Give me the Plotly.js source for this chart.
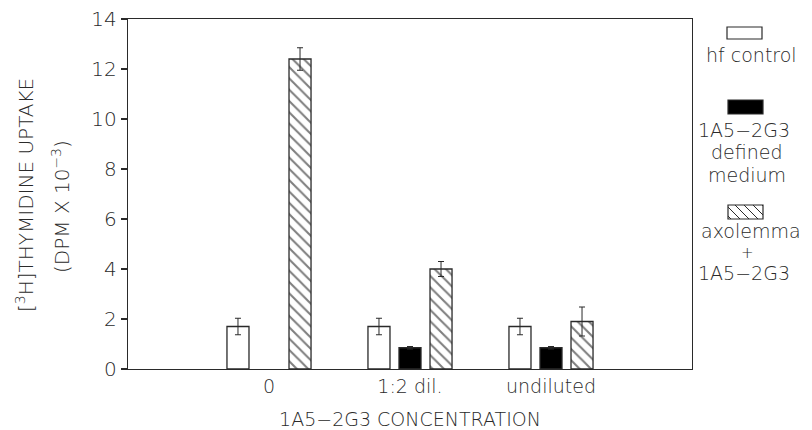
<!DOCTYPE html>
<html>
<head>
<meta charset="utf-8">
<script src="https://cdn.plot.ly/plotly-3.0.1.min.js"></script>
<style>
  html, body { margin: 0; padding: 0; background: #fff; }
  #chart { width: 812px; height: 430px; }
</style>
</head>
<body>
<div id="chart"></div>
<script>
// 1A5-2G3 concentration groups
const categories = ['0', '1:2 dil.', 'undiluted'];

// [3H]thymidine uptake, DPM x 10^-3
const hfControl = [1.7, 1.7, 1.7];
const hfControlErr = [0.33, 0.33, 0.33];

const definedMedium = [null, 0.85, 0.85];
const definedMediumErr = [null, 0.05, 0.05];

const axolemma = [12.4, 4.0, 1.9];
const axolemmaErr = [0.45, 0.3, 0.58];

const yTicks = [0, 2, 4, 6, 8, 10, 12, 14];

const INK = '#2a2a2a';
const FONT = 'DejaVu Sans, Liberation Sans, sans-serif';
const WEIGHT = 300;

// plot area in pixels
const W = 812, H = 430;
const M = { l: 128, r: 120, t: 19, b: 61 };
const PW = W - M.l - M.r, PH = H - M.t - M.b;
const px = x => (x - M.l) / PW;
const py = y => (H - M.b - y) / PH;

function f(size) {
  return { family: FONT, size: size, color: INK, weight: WEIGHT };
}

function errBar(arr) {
  return { type: 'data', array: arr, visible: true, color: INK, thickness: 1, width: 3 };
}

const traces = [
  {
    type: 'bar', name: 'hf control', x: categories, y: hfControl,
    marker: { color: '#ffffff', line: { color: INK, width: 1.3 } },
    error_y: errBar(hfControlErr)
  },
  {
    type: 'bar', name: '1A5-2G3 defined medium', x: categories, y: definedMedium,
    marker: { color: '#000000', line: { color: INK, width: 1.3 } },
    error_y: errBar(definedMediumErr)
  },
  {
    type: 'bar', name: 'axolemma + 1A5-2G3', x: categories, y: axolemma,
    marker: {
      color: '#ffffff',
      line: { color: INK, width: 1.3 },
      pattern: { shape: '\\', size: 8, solidity: 0.26, fgcolor: '#000000', bgcolor: '#ffffff', fillmode: 'overlay' }
    },
    error_y: errBar(axolemmaErr)
  }
];

// legend swatches (drawn at the right of the frame)
const shapes = [];
function swatchRect(x0, x1, y0, y1, fill) {
  shapes.push({
    type: 'rect', xref: 'paper', yref: 'paper',
    x0: px(x0), x1: px(x1), y0: py(y1), y1: py(y0),
    fillcolor: fill, line: { color: INK, width: 1.2 }
  });
}
swatchRect(727, 762, 27, 39, '#ffffff');
swatchRect(728, 763, 100, 114, '#000000');
swatchRect(728, 763, 205, 219, '#ffffff');

// diagonal hatch inside the third swatch
(function () {
  const x0 = 728, x1 = 763, y0 = 205, y1 = 219, h = y1 - y0;
  let segs = '';
  for (let s = x0 - h + 3; s < x1; s += 9) {
    // line from (s, y0) to (s + h, y1), clipped to the box
    let ax = s, ay = y0, bx = s + h, by = y1;
    if (ax < x0) { ay += (x0 - ax); ax = x0; }
    if (bx > x1) { by -= (bx - x1); bx = x1; }
    if (bx <= ax) continue;
    segs += `M${px(ax)},${py(ay)} L${px(bx)},${py(by)} `;
  }
  shapes.push({ type: 'path', xref: 'paper', yref: 'paper', path: segs, line: { color: INK, width: 1 } });
})();

function label(text, xPix, yPix, size, extra) {
  return Object.assign({
    text: text, xref: 'paper', yref: 'paper', x: px(xPix), y: py(yPix),
    xanchor: 'center', yanchor: 'middle', showarrow: false,
    font: f(size)
  }, extra || {});
}

const annotations = [
  label('hf control', 751, 55, 19),
  label('1A5\u22122G3', 744, 130, 19),
  label('defined', 747, 152, 19),
  label('medium', 747, 175, 19),
  label('axolemma', 751, 231, 19),
  label('+', 747, 253, 15),
  label('1A5\u22122G3', 744, 273, 19),
  // y axis title, two lines
  label('[<sup>3</sup>H]THYMIDINE UPTAKE', 25, 195, 20, { textangle: -90 }),
  label('(DPM X 10<sup>\u22123</sup>)', 61, 207, 20, { textangle: -90 })
];

const layout = {
  width: W, height: H,
  margin: M,
  paper_bgcolor: '#ffffff',
  plot_bgcolor: '#ffffff',
  showlegend: false,
  barmode: 'group',
  bargap: 0.34,
  bargroupgap: 0.29,
  font: f(18),
  xaxis: {
    type: 'category',
    range: [-1, 3],
    showgrid: false, zeroline: false,
    showline: true, linecolor: INK, linewidth: 1.3, mirror: true,
    ticks: '',
    tickfont: f(19),
    title: { text: '1A5\u22122G3 CONCENTRATION', font: f(19), standoff: 20 },
    automargin: false
  },
  yaxis: {
    range: [0, 14],
    tickvals: yTicks,
    ticktext: yTicks.map(String),
    showgrid: false, zeroline: false,
    showline: true, linecolor: INK, linewidth: 1.3, mirror: true,
    ticks: 'outside', ticklen: 6, tickwidth: 1.3, tickcolor: INK,
    tickfont: f(20),
    automargin: false
  },
  shapes: shapes,
  annotations: annotations
};

Plotly.newPlot('chart', traces, layout, { displayModeBar: false, staticPlot: true });
</script>
</body>
</html>
